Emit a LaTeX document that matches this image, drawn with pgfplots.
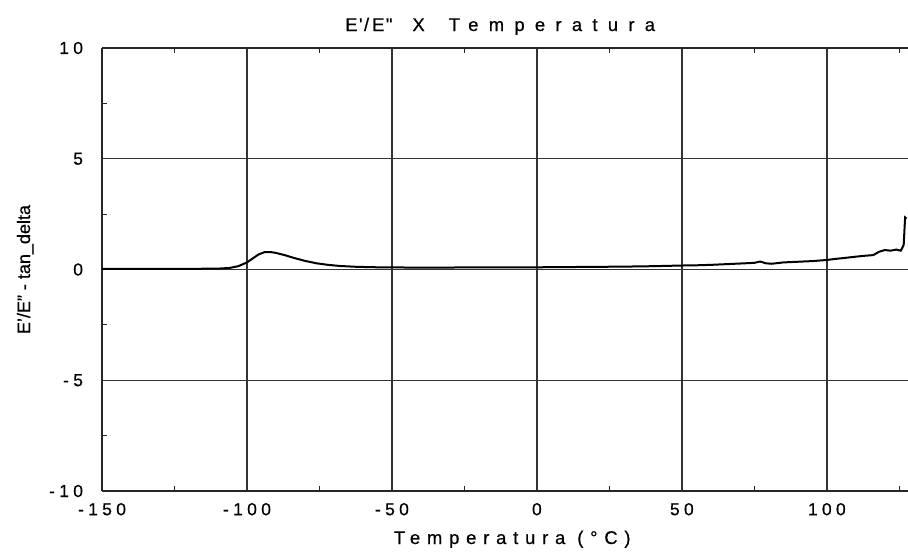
\documentclass[border=0pt]{standalone}
\usepackage{pgfplots}
\pgfplotsset{compat=1.18}
\usepackage{fontspec}
\setmainfont{Liberation Sans}[FakeBold=0.6]
\newfontfamily\tickfont{Liberation Sans}[LetterSpace=25,FakeBold=0.6]
\newfontfamily\titlefont{Liberation Sans}[LetterSpace=56,FakeBold=0.6]
\newfontfamily\xlabfont{Liberation Sans}[LetterSpace=37,FakeBold=0.6]
\newfontfamily\lightspace{Liberation Sans}[LetterSpace=8,FakeBold=0.6]
\begin{document}
\begin{tikzpicture}
\begin{axis}[
  at={(0,0)}, anchor=south west,
  scale only axis, width=403pt, height=221.5pt,
  xmin=-150, xmax=128, ymin=-10, ymax=10,
  xtick={-150,-100,-50,0,50,100},
  ytick={-10,-5,0,5,10},
  minor xtick={-125,-75,-25,25,75,125},
  minor ytick={-7.5,-2.5,2.5,7.5},
  grid=major,
  major grid style={line width=0.7pt, black!80},
  axis x line=box, axis y line=left,
  axis line style={-, line width=0.85pt, black!85},
  tick style={black!85, line width=0.6pt},
  major tick length=0pt, minor tick length=2.5pt,
  tick align=inside,
  /pgf/number format/assume math mode=true,
  ticklabel style={font=\tickfont\fontsize{8.7}{10}\selectfont},
  xticklabel style={yshift=-2.5pt},
  yticklabel style={xshift=-6pt},
  every axis title/.style={at={(axis description cs:0.494,1)}, anchor=base, yshift=8.5pt, font=\fontsize{9.2}{11}\selectfont},
  title={{\lightspace E\symbol{39}/\,E\symbol{34}}\hspace{10pt}X\hspace{12pt}{\titlefont Temperatura}},
  every axis x label/.style={at={(axis description cs:0.509,0)}, anchor=base, yshift=-26.5pt, font=\xlabfont\fontsize{9.2}{11}\selectfont},
  xlabel={Temperatura (°C)},
  every axis y label/.style={at={(axis description cs:-0.0893,0.5)}, rotate=90, anchor=base, font=\fontsize{9}{11}\selectfont},
  ylabel={E\symbol{39}/E\symbol{34} - tan\_delta},
  clip=true,
]
\addplot[black, line width=1pt] coordinates {
(-150,0.03) (-130,0.03) (-120,0.03) (-110,0.04) (-106,0.07) (-103,0.15)
(-100,0.32) (-98,0.5) (-96,0.68) (-94,0.78) (-92,0.79) (-90,0.75)
(-87,0.65) (-84,0.53) (-80,0.39) (-76,0.28) (-72,0.21) (-68,0.16)
(-62,0.12) (-55,0.1) (-45,0.09) (-30,0.09) (-10,0.1) (0,0.1)
(10,0.11) (20,0.12) (30,0.13) (40,0.15) (50,0.18) (55,0.19) (60,0.21)
(65,0.24) (70,0.27) (75,0.3) (77,0.36) (79,0.28) (81,0.26) (85,0.32)
(90,0.35) (95,0.38) (100,0.43) (103,0.48) (106,0.52) (110,0.58)
(113,0.62) (116,0.65) (118,0.8) (120,0.88) (122,0.85) (124,0.9)
(125.5,0.85) (126.5,1.1) (127,2.35) (127.5,2.3)
};
\end{axis}
\pgfresetboundingbox
\path[use as bounding box] (-51pt,-31.5pt) rectangle (403pt,245.5pt);
\end{tikzpicture}
\end{document}
